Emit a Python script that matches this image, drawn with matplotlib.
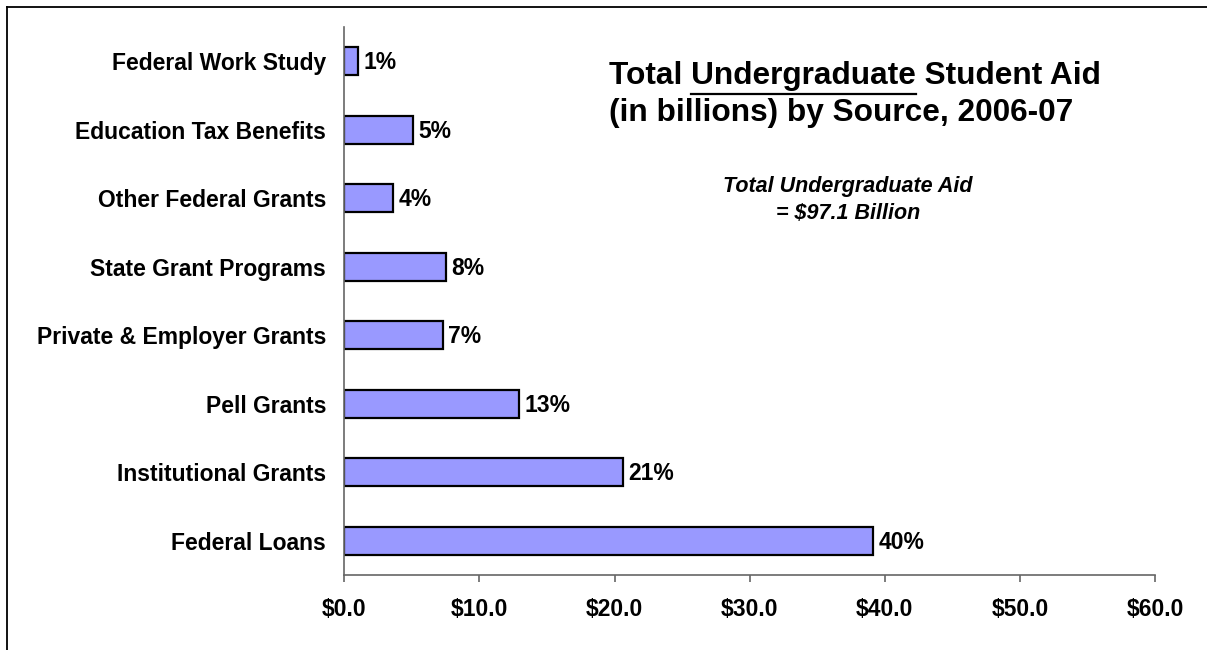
import matplotlib
matplotlib.use("Agg")
import matplotlib.pyplot as plt
from matplotlib.lines import Line2D

plt.rcParams["font.family"] = ["Liberation Sans", "DejaVu Sans"]
plt.rcParams["font.weight"] = "bold"

# data (billions of dollars, 2006-07)
sources = ["Federal Loans", "Institutional Grants", "Pell Grants",
           "Private & Employer Grants", "State Grant Programs",
           "Other Federal Grants", "Education Tax Benefits", "Federal Work Study"]
amounts = [39.1, 20.6, 12.9, 7.3, 7.5, 3.6, 5.1, 1.0]
shares = ["40%", "21%", "13%", "7%", "8%", "4%", "5%", "1%"]
xticks = [0, 10, 20, 30, 40, 50, 60]

W, H = 1207, 650
fig = plt.figure(figsize=(W / 100, H / 100), dpi=100)
ax = fig.add_axes([344.3 / W, 75 / H, 810.7 / W, 548 / H])

bars = ax.barh(range(len(sources)), amounts, height=0.41,
               color="#9999FF", edgecolor="black", linewidth=1.6)
for b, s in zip(bars, shares):
    ax.annotate(s, xy=(b.get_width(), b.get_y() + b.get_height() / 2),
                xytext=(4, -1), textcoords="offset points",
                ha="left", va="center", fontsize=16.5, fontweight="bold")

ax.set_xlim(0, 60)
ax.set_ylim(-0.5, len(sources) - 0.5)
ax.set_xticks(xticks)
ax.set_xticklabels(["$%.1f" % v for v in xticks])
ax.set_yticks(range(len(sources)))
ax.set_yticklabels(sources)
ax.tick_params(axis="x", length=5, width=1.2, color="#666666", pad=11.5,
               labelsize=16.5, direction="out")
ax.tick_params(axis="y", length=0, pad=13, labelsize=16.5)
for lab in ax.get_xticklabels() + ax.get_yticklabels():
    lab.set_fontweight("bold")
for side in ["top", "right"]:
    ax.spines[side].set_visible(False)
for side in ["left", "bottom"]:
    ax.spines[side].set_color("#666666")
    ax.spines[side].set_linewidth(1.2)

# title (two lines, word underlined)
tsize = 22.8
tx = 609 / W
t1 = fig.text(tx, 1 - 84 / H, "Total Undergraduate Student Aid", fontsize=tsize,
              fontweight="bold", ha="left", va="baseline")
fig.text(tx, 1 - 121 / H, "(in billions) by Source, 2006-07", fontsize=tsize,
         fontweight="bold", ha="left", va="baseline")

fig.text(848 / W, 1 - 192 / H, "Total Undergraduate Aid", fontsize=15.5,
         fontweight="bold", style="italic", ha="center", va="baseline")
fig.text(848 / W, 1 - 219 / H, "= $97.1 Billion", fontsize=15.5,
         fontweight="bold", style="italic", ha="center", va="baseline")

# measure where "Undergraduate" sits to draw the underline
renderer = fig.canvas.get_renderer()

def text_width(s):
    t = fig.text(0, 0, s, fontsize=tsize, fontweight="bold")
    w = t.get_window_extent(renderer).width
    t.remove()
    return w

x0 = tx * W + text_width("Total U") - text_width("U")
x1 = tx * W + text_width("Total Undergraduate")
uy = 1 - 93.5 / H
fig.add_artist(Line2D([x0 / W, x1 / W], [uy, uy], color="black", linewidth=1.6,
                      transform=fig.transFigure))

# frame lines at left and top
fig.add_artist(Line2D([6.5 / W, 6.5 / W], [0, 1 - 6.5 / H], color="black",
                      linewidth=1.3, transform=fig.transFigure))
fig.add_artist(Line2D([6.5 / W, 1], [1 - 6.5 / H, 1 - 6.5 / H], color="black",
                      linewidth=1.3, transform=fig.transFigure))

fig.savefig("out.png", dpi=100)
